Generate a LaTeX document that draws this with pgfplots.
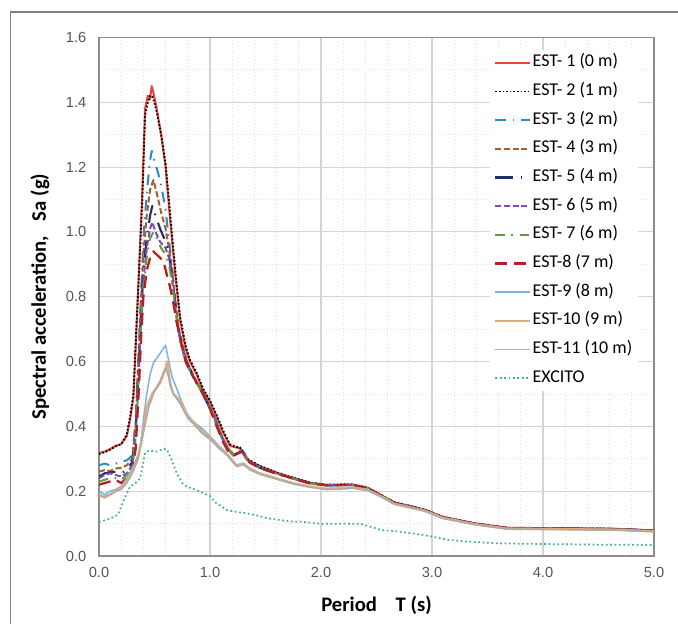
\documentclass[border=0pt]{standalone}
\usepackage{pgfplots}
\pgfplotsset{compat=1.18}
\usepackage{fontspec}
\setmainfont{Carlito}
\newfontfamily\arialf{Liberation Sans}
\definecolor{est1}{HTML}{E8413A}
\definecolor{est3}{HTML}{2E8BC0}
\definecolor{est4}{HTML}{A0612E}
\definecolor{est5}{HTML}{1F2F6B}
\definecolor{est6}{HTML}{7E4BB5}
\definecolor{est7}{HTML}{5E9C3E}
\definecolor{est8}{HTML}{B3201F}
\definecolor{est9}{HTML}{7AB3E0}
\definecolor{est10}{HTML}{E3AB7A}
\definecolor{est11}{HTML}{ABABAB}
\definecolor{excito}{HTML}{3DB38C}
\definecolor{axgray}{HTML}{8C8C8C}
\definecolor{gridmaj}{HTML}{D4D4D4}
\definecolor{gridmin}{HTML}{E0E0E0}
\definecolor{tickgray}{HTML}{555555}
\definecolor{framegray}{HTML}{7F7F7F}
\begin{document}
\begin{tikzpicture}
\useasboundingbox (0,0) rectangle (508.5pt,468pt);
\draw[framegray, line width=1.2pt] (7.9pt,-5pt) -- (7.9pt,459pt) -- (515pt,459pt);
\begin{axis}[
  at={(74.25pt,51pt)}, anchor=south west,
  scale only axis, width=416.25pt, height=388.9pt,
  xmin=0, xmax=5, ymin=0, ymax=1.6,
  xtick={0,1,...,5}, ytick={0,0.2,...,1.6},
  minor x tick num=4, minor y tick num=1,
  major tick length=0pt, minor tick length=0pt,
  grid=both,
  major grid style={draw=gridmaj, line width=0.8pt},
  minor grid style={draw=gridmin, dotted, line width=0.6pt},
  axis line style={draw=axgray, line width=1.1pt},
  /pgf/number format/assume math mode=true,
  xticklabel={\pgfmathprintnumber[fixed,fixed zerofill,precision=1]{\tick}},
  yticklabel={\pgfmathprintnumber[fixed,fixed zerofill,precision=1]{\tick}},
  ticklabel style={font=\arialf\fontsize{11}{13}\selectfont, text=tickgray},
  yticklabel style={xshift=-6pt},
  xticklabel style={yshift=-5pt},
  xlabel={Period\hspace{14pt}T (s)},
  ylabel={Spectral acceleration,\hspace{11pt}Sa (g)},
  xlabel style={at={(axis description cs:0.5,-0.0945)}, anchor=center, font=\bfseries\fontsize{15.5}{17}\selectfont},
  ylabel style={at={(axis description cs:-0.1063,0.5)}, anchor=center, font=\bfseries\fontsize{15.5}{17}\selectfont},
  legend image code/.code={\draw[#1] (0pt,0pt) -- (26pt,0pt);},
  legend cell align=left,
  legend style={at={(rel axis cs:0.7045,0.976)}, anchor=north west, draw=none, fill=white,
    font=\fontsize{13.5}{15}\selectfont, row sep=6.5pt,
    nodes={inner sep=1pt, text height=9.5pt, text depth=3.5pt}},
  every axis plot/.append style={line join=round},
]
% EST-1
\addplot[est1, line width=1.5pt] table {
0 0.318
0.05 0.322
0.10 0.330
0.15 0.340
0.20 0.345
0.25 0.370
0.28 0.420
0.31 0.490
0.34 0.720
0.36 0.880
0.39 1.120
0.415 1.380
0.44 1.420
0.46 1.410
0.475 1.450
0.49 1.430
0.52 1.380
0.56 1.300
0.60 1.200
0.64 1.040
0.69 0.860
0.73 0.730
0.78 0.640
0.82 0.600
0.88 0.560
0.94 0.510
1.00 0.475
1.06 0.430
1.12 0.380
1.18 0.340
1.23 0.335
1.27 0.333
1.33 0.298
1.45 0.277
1.60 0.257
1.75 0.241
1.90 0.226
2.05 0.219
2.20 0.220
2.29 0.220
2.42 0.210
2.54 0.188
2.66 0.165
2.81 0.153
2.93 0.143
3.10 0.120
3.38 0.101
3.68 0.087
4.04 0.086
4.64 0.084
5.00 0.079
};
\addlegendentry{EST- 1 (0 m)}
% EST-2
\addplot[black, line width=1.4pt, dash pattern=on 1.2pt off 1.5pt] table {
0 0.315
0.05 0.320
0.10 0.328
0.15 0.338
0.20 0.345
0.25 0.375
0.28 0.430
0.31 0.500
0.34 0.730
0.36 0.870
0.39 1.100
0.415 1.360
0.44 1.400
0.46 1.420
0.475 1.420
0.49 1.410
0.52 1.370
0.56 1.300
0.60 1.210
0.64 1.060
0.69 0.870
0.73 0.740
0.78 0.650
0.82 0.605
0.88 0.565
0.94 0.515
1.00 0.480
1.06 0.435
1.12 0.385
1.18 0.345
1.23 0.337
1.27 0.335
1.33 0.300
1.45 0.278
1.60 0.258
1.75 0.242
1.90 0.227
2.05 0.220
2.20 0.221
2.29 0.221
2.42 0.211
2.54 0.189
2.66 0.166
2.81 0.154
2.93 0.144
3.10 0.121
3.38 0.101
3.68 0.087
4.04 0.086
4.64 0.084
5.00 0.079
};
\addlegendentry{EST- 2 (1 m)}
% EST-3
\addplot[est3, line width=1.5pt, dash pattern=on 8pt off 5pt on 1.2pt off 5pt] table {
0 0.280
0.05 0.285
0.10 0.280
0.15 0.285
0.20 0.290
0.25 0.295
0.30 0.310
0.33 0.420
0.36 0.660
0.38 0.820
0.40 0.980
0.43 1.120
0.46 1.220
0.475 1.250
0.50 1.220
0.55 1.160
0.60 1.070
0.625 0.990
0.65 0.920
0.68 0.810
0.71 0.710
0.75 0.650
0.79 0.600
0.85 0.555
0.91 0.520
1.00 0.465
1.06 0.415
1.12 0.360
1.16 0.335
1.21 0.315
1.29 0.327
1.36 0.292
1.45 0.274
1.60 0.255
1.75 0.240
1.90 0.225
2.05 0.218
2.20 0.219
2.29 0.219
2.42 0.209
2.54 0.187
2.66 0.164
2.81 0.152
2.93 0.142
3.10 0.119
3.38 0.100
3.68 0.086
4.04 0.085
4.64 0.083
5.00 0.078
};
\addlegendentry{EST- 3 (2 m)}
% EST-4
\addplot[est4, line width=1.5pt, dash pattern=on 4.5pt off 2pt] table {
0 0.260
0.05 0.265
0.10 0.262
0.15 0.270
0.20 0.272
0.25 0.280
0.30 0.300
0.33 0.400
0.36 0.640
0.38 0.800
0.40 0.930
0.43 1.050
0.46 1.130
0.49 1.160
0.52 1.120
0.56 1.060
0.60 1.010
0.63 0.950
0.66 0.880
0.69 0.780
0.72 0.700
0.76 0.640
0.80 0.595
0.86 0.550
0.92 0.515
1.00 0.460
1.06 0.410
1.12 0.360
1.16 0.335
1.21 0.312
1.29 0.325
1.36 0.290
1.45 0.273
1.60 0.255
1.75 0.240
1.90 0.225
2.05 0.218
2.20 0.219
2.29 0.219
2.42 0.209
2.54 0.187
2.66 0.164
2.81 0.152
2.93 0.142
3.10 0.119
3.38 0.100
3.68 0.086
4.04 0.085
4.64 0.083
5.00 0.078
};
\addlegendentry{EST- 4 (3 m)}
% EST-5
\addplot[est5, line width=1.6pt, dash pattern=on 13pt off 6pt on 1.2pt off 6pt] table {
0 0.245
0.05 0.255
0.10 0.258
0.15 0.260
0.20 0.255
0.25 0.265
0.30 0.290
0.33 0.380
0.36 0.600
0.38 0.760
0.40 0.880
0.43 0.980
0.46 1.050
0.48 1.080
0.51 1.050
0.55 1.010
0.60 0.970
0.63 0.930
0.66 0.860
0.69 0.770
0.72 0.690
0.76 0.630
0.80 0.590
0.86 0.545
0.92 0.510
1.00 0.455
1.06 0.405
1.12 0.355
1.16 0.332
1.21 0.310
1.29 0.324
1.36 0.289
1.45 0.272
1.60 0.254
1.75 0.239
1.90 0.224
2.05 0.218
2.20 0.219
2.29 0.219
2.42 0.209
2.54 0.187
2.66 0.164
2.81 0.152
2.93 0.142
3.10 0.119
3.38 0.100
3.68 0.086
4.04 0.085
4.64 0.083
5.00 0.078
};
\addlegendentry{EST- 5 (4 m)}
% EST-6
\addplot[est6, line width=1.5pt, dash pattern=on 4.5pt off 2pt] table {
0 0.240
0.05 0.250
0.10 0.255
0.15 0.250
0.20 0.245
0.25 0.255
0.30 0.280
0.33 0.370
0.36 0.580
0.38 0.740
0.40 0.850
0.43 0.950
0.46 1.010
0.48 1.030
0.51 1.000
0.55 0.970
0.60 0.950
0.63 0.920
0.66 0.850
0.69 0.760
0.72 0.685
0.76 0.625
0.80 0.585
0.86 0.545
0.92 0.510
1.00 0.455
1.06 0.405
1.12 0.355
1.16 0.330
1.21 0.310
1.29 0.323
1.36 0.289
1.45 0.272
1.60 0.254
1.75 0.239
1.90 0.224
2.05 0.218
2.20 0.219
2.29 0.219
2.42 0.209
2.54 0.187
2.66 0.164
2.81 0.152
2.93 0.142
3.10 0.119
3.38 0.100
3.68 0.086
4.04 0.085
4.64 0.083
5.00 0.078
};
\addlegendentry{EST- 6 (5 m)}
% EST-7
\addplot[est7, line width=1.5pt, dash pattern=on 7pt off 5pt on 1.2pt off 5pt] table {
0 0.230
0.05 0.235
0.10 0.240
0.15 0.240
0.20 0.235
0.25 0.250
0.30 0.275
0.33 0.360
0.36 0.560
0.38 0.720
0.40 0.830
0.43 0.920
0.46 0.980
0.49 1.000
0.52 0.980
0.56 0.950
0.60 0.930
0.63 0.900
0.66 0.840
0.69 0.760
0.72 0.680
0.76 0.620
0.80 0.585
0.86 0.545
0.92 0.510
1.00 0.455
1.06 0.405
1.12 0.352
1.16 0.330
1.21 0.310
1.29 0.323
1.36 0.288
1.45 0.272
1.60 0.254
1.75 0.239
1.90 0.224
2.05 0.218
2.20 0.219
2.29 0.219
2.42 0.209
2.54 0.187
2.66 0.164
2.81 0.152
2.93 0.142
3.10 0.119
3.38 0.100
3.68 0.086
4.04 0.085
4.64 0.083
5.00 0.078
};
\addlegendentry{EST- 7 (6 m)}
% EST-8
\addplot[est8, line width=1.7pt, dash pattern=on 9pt off 5pt] table {
0 0.220
0.05 0.225
0.10 0.230
0.15 0.235
0.20 0.225
0.25 0.240
0.30 0.260
0.33 0.330
0.36 0.520
0.38 0.680
0.40 0.800
0.43 0.880
0.46 0.920
0.49 0.940
0.52 0.930
0.55 0.920
0.58 0.910
0.61 0.870
0.64 0.830
0.67 0.780
0.70 0.720
0.74 0.660
0.78 0.600
0.82 0.570
0.88 0.535
0.94 0.500
1.00 0.455
1.06 0.400
1.12 0.350
1.16 0.325
1.21 0.310
1.29 0.322
1.36 0.288
1.45 0.271
1.60 0.254
1.75 0.239
1.90 0.224
2.05 0.218
2.20 0.219
2.29 0.219
2.42 0.209
2.54 0.187
2.66 0.164
2.81 0.152
2.93 0.142
3.10 0.119
3.38 0.100
3.68 0.086
4.04 0.085
4.64 0.083
5.00 0.078
};
\addlegendentry{EST-8 (7 m)}
% EST-9
\addplot[est9, line width=1.1pt] table {
0 0.200
0.05 0.190
0.10 0.200
0.15 0.205
0.20 0.215
0.25 0.240
0.30 0.270
0.35 0.310
0.37 0.330
0.40 0.420
0.43 0.500
0.46 0.560
0.49 0.596
0.55 0.625
0.60 0.650
0.63 0.600
0.66 0.550
0.69 0.525
0.73 0.490
0.79 0.440
0.85 0.415
0.94 0.390
1.00 0.370
1.08 0.340
1.15 0.318
1.24 0.281
1.30 0.287
1.36 0.270
1.45 0.256
1.60 0.240
1.75 0.225
1.90 0.215
2.05 0.208
2.20 0.210
2.29 0.212
2.42 0.205
2.54 0.185
2.66 0.162
2.81 0.150
2.93 0.141
3.10 0.118
3.38 0.099
3.68 0.085
4.04 0.084
4.64 0.082
5.00 0.077
};
\addlegendentry{EST-9 (8 m)}
% EST-10
\addplot[est10, line width=1.8pt] table {
0 0.190
0.05 0.180
0.10 0.190
0.15 0.200
0.20 0.210
0.25 0.230
0.30 0.260
0.35 0.300
0.38 0.350
0.40 0.390
0.43 0.460
0.48 0.500
0.55 0.534
0.60 0.580
0.617 0.600
0.64 0.530
0.67 0.500
0.73 0.480
0.80 0.430
0.94 0.380
1.00 0.365
1.08 0.335
1.15 0.315
1.24 0.279
1.30 0.284
1.36 0.268
1.45 0.254
1.60 0.239
1.75 0.224
1.90 0.214
2.05 0.207
2.20 0.209
2.29 0.211
2.42 0.204
2.54 0.184
2.66 0.161
2.81 0.149
2.93 0.140
3.10 0.117
3.38 0.098
3.68 0.084
4.04 0.083
4.64 0.081
5.00 0.076
};
\addlegendentry{EST-10 (9 m)}
% EST-11
\addplot[est11, line width=1.1pt] table {
0 0.185
0.05 0.185
0.10 0.190
0.15 0.200
0.20 0.205
0.25 0.225
0.30 0.255
0.35 0.300
0.40 0.380
0.45 0.460
0.50 0.510
0.55 0.540
0.60 0.580
0.63 0.550
0.67 0.500
0.73 0.470
0.80 0.425
0.94 0.375
1.00 0.360
1.08 0.332
1.15 0.312
1.24 0.276
1.30 0.282
1.36 0.266
1.45 0.252
1.60 0.237
1.75 0.222
1.90 0.212
2.05 0.205
2.20 0.207
2.29 0.209
2.42 0.202
2.54 0.183
2.66 0.160
2.81 0.148
2.93 0.139
3.10 0.116
3.38 0.097
3.68 0.083
4.04 0.082
4.64 0.080
5.00 0.075
};
\addlegendentry{EST-11 (10 m)}
% EXCITO
\addplot[excito, line width=1.3pt, dash pattern=on 1.3pt off 2pt] table {
0 0.105
0.05 0.110
0.10 0.115
0.17 0.127
0.22 0.170
0.28 0.214
0.33 0.225
0.37 0.240
0.40 0.290
0.415 0.318
0.45 0.325
0.52 0.322
0.58 0.330
0.61 0.330
0.65 0.300
0.70 0.256
0.75 0.225
0.79 0.214
0.87 0.205
0.94 0.194
1.00 0.185
1.05 0.165
1.15 0.142
1.25 0.135
1.33 0.132
1.42 0.125
1.51 0.117
1.63 0.111
1.75 0.106
1.81 0.106
2.00 0.099
2.20 0.100
2.36 0.099
2.45 0.090
2.54 0.080
2.66 0.077
2.90 0.066
3.00 0.060
3.14 0.050
3.30 0.045
3.59 0.039
4.00 0.037
4.50 0.035
5.00 0.034
};
\addlegendentry{EXCITO}
\end{axis}
\end{tikzpicture}
\end{document}
